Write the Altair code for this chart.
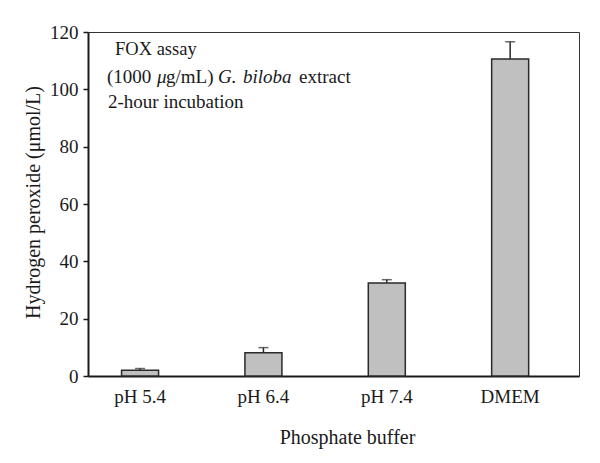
import altair as alt
import pandas as pd

categories = ["pH 5.4", "pH 6.4", "pH 7.4", "DMEM"]
means = [2.0, 8.1, 32.4, 110.6]
errors = [0.6, 1.8, 1.2, 6.0]
y_ticks = [0, 20, 40, 60, 80, 100, 120]

df = pd.DataFrame({"cat": categories, "mean": means, "err": errors})
df["upper"] = df["mean"] + df["err"]

FONT = "Liberation Serif"
INK = "#1a1a1a"

x_enc = alt.X(
    "cat:N",
    sort=categories,
    scale=alt.Scale(paddingInner=0.7, paddingOuter=0.34, align=0.4),
    axis=alt.Axis(
        title="Phosphate buffer",
        ticks=False,
        labelAngle=0,
        labelPadding=11,
        labelFontSize=19,
        titleFontSize=20,
        titleX=259,
        titleY=67,
        titleAlign="center",
        titleBaseline="alphabetic",
    ),
)
y_enc = alt.Y(
    "mean:Q",
    scale=alt.Scale(domain=[0, 120], nice=False),
    axis=alt.Axis(
        values=y_ticks,
        title="Hydrogen peroxide (μmol/L)",
        grid=False,
        tickSize=5,
        labelPadding=5,
        labelFontSize=19,
        titleFontSize=20,
        titleX=-49,
        titleY=170,
        titleAngle=-90,
        titleAlign="center",
        titleBaseline="alphabetic",
    ),
)

base = alt.Chart(df)
bars = base.mark_bar(fill="#c0c0c0", stroke="#2a2a2a", strokeWidth=1.5).encode(x=x_enc, y=y_enc)
err_line = base.mark_rule(color="#2a2a2a", strokeWidth=1.5).encode(
    x=alt.X("cat:N", sort=categories), y="mean:Q", y2="upper:Q"
)
err_cap = base.mark_tick(color="#2a2a2a", thickness=1.5, size=10).encode(
    x=alt.X("cat:N", sort=categories), y="upper:Q"
)

one = pd.DataFrame({"k": [0]})


def label(text, px, py, italic=False, size=19):
    return alt.Chart(one).mark_text(
        text=text,
        font=FONT,
        fontSize=size,
        fontStyle="italic" if italic else "normal",
        align="left",
        baseline="alphabetic",
        color=INK,
    ).encode(x=alt.value(px), y=alt.value(py))


notes = [
    label("FOX assay", 27, 23, size=18.5),
    label("(1000", 19, 51),
    label("μ", 69, 51, italic=True),
    label("g/mL)", 78, 51),
    label("G.", 130, 51, italic=True),
    label("biloba", 155, 51, italic=True),
    label("extract", 211, 51),
    label("2-hour incubation", 20, 76),
]

chart = alt.layer(bars, err_line, err_cap, *notes).properties(
    width=491,
    height=344,
    autosize=alt.AutoSizeParams(type="none"),
    padding={"left": 80, "top": 24, "right": 13, "bottom": 80},
).configure_view(stroke="#333333", strokeWidth=1).configure_axis(
    domainColor=INK,
    domainWidth=2,
    tickColor=INK,
    tickWidth=1.5,
    labelFont=FONT,
    titleFont=FONT,
    labelColor=INK,
    titleColor=INK,
    titleFontWeight="normal",
)

chart.save("out.html", embed_options={"renderer": "svg", "actions": False})
